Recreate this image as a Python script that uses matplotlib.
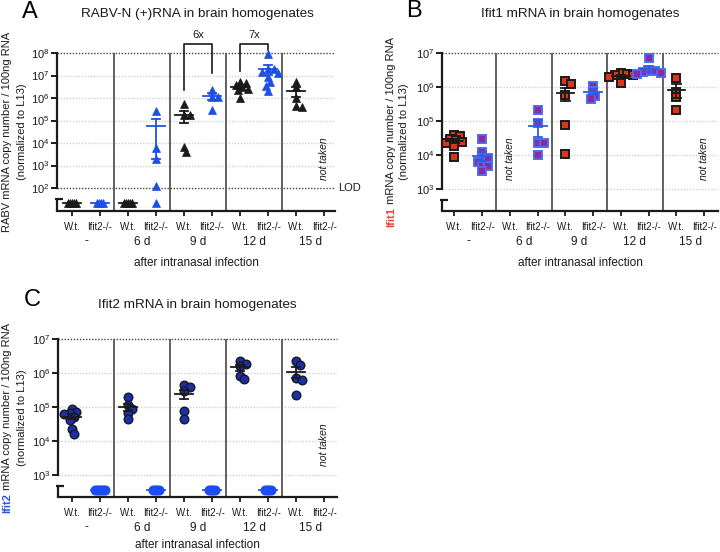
import numpy as np
import matplotlib
matplotlib.use("Agg")
import matplotlib.pyplot as plt

plt.rcParams['font.family'] = ['Liberation Sans', 'DejaVu Sans']

GROUPS = ["-", "6 d", "9 d", "12 d", "15 d"]
GENOTYPES = ["W.t.", "Ifit2-/-"]

# A: RABV-N (+)RNA. undetected samples are drawn at ND_A, below the axis break
ND_A = 22
rabv_wt = [[ND_A] * 5,
           [ND_A] * 5,
           [5.2e5, 1.7e5, 1.7e5, 6.5e3, 3.9e3],
           [5.2e6, 4.8e6, 3.6e6, 3.2e6, 2.4e6, 2.2e6, 1.0e6],
           [5.4e6, 3.2e6, 1.0e6, 4.5e5, 4.0e5]]
rabv_ko = [[ND_A] * 4,
           [2.75e5, 5.75e3, 1.9e3, 126, ND_A],
           [2.3e6, 1.15e6, 1.1e6, 3.0e5],
           [9.0e7, 1.9e7, 1.9e7, 1.5e7, 1.26e7, 8.8e6, 5.3e6, 3.4e6, 2.0e6],
           None]
# fold change brackets: (left pos, right pos, label, left leg end, right leg end)
rabv_folds = [(4, 5, "6x", 2.3e6, 1.3e7),
              (6, 7, "7x", 1.6e7, 1.35e8)]
fold_top = 2.5e8
fold_label_y = 6.3e8

# B: Ifit1 mRNA
ifit1_wt = [[3.8e4, 3.5e4, 2.9e4, 2.7e4, 2.4e4, 2.2e4, 1.8e4, 8.5e3],
            None,
            [1.45e6, 1.2e6, 6.0e5, 7.5e4, 1.07e4],
            [2.6e6, 2.4e6, 2.2e6, 2.2e6, 2.0e6, 1.35e6],
            [1.87e6, 7.3e5, 5.0e5, 2.1e5]]
ifit1_ko = [[2.9e4, 1.2e4, 8e3, 8e3, 6e3, 4.8e3, 4.8e3, 3.4e3],
            [2.1e5, 8.5e4, 2.3e4, 2.3e4, 1.0e4],
            [1.1e6, 7.7e5, 5.5e5, 4.4e5],
            [6.9e6, 3.0e6, 2.9e6, 2.7e6, 2.6e6, 2.4e6],
            None]

# C: Ifit2 mRNA, knockouts have none -> drawn at ND_C below the break
ND_C = 360
ifit2_wt = [[9e4, 7.3e4, 6.5e4, 6e4, 5.1e4, 4e4, 2.2e4, 1.6e4],
            [1.9e5, 1.15e5, 9e4, 6.7e4, 4.4e4],
            [4.3e5, 3.8e5, 2.9e5, 7.8e4, 4.4e4],
            [2.3e6, 1.9e6, 1.6e6, 8.2e5, 6.6e5],
            [2.2e6, 1.7e6, 7e5, 6.2e5, 2.2e5]]
ifit2_ko = [[ND_C] * 6, [ND_C] * 4, [ND_C] * 4, [ND_C] * 4, None]

INK = '#1a1a1a'
BLUE = '#1d4fe6'


def mean_sem(vals):
    v = np.asarray(vals, float)
    if len(v) < 2:
        return v.mean(), 0.0
    return v.mean(), v.std(ddof=1) / np.sqrt(len(v))


def swarm(vals, nd, dec_px, cat_px, d=5.0, step=2.0, nd_step=2.1):
    # simple column scatter, everything in pixels
    v = np.asarray(vals, float)
    y = np.log10(v) * dec_px
    off = np.zeros(len(v))
    is_nd = v == nd
    k_nd = np.flatnonzero(is_nd)
    off[k_nd] = (np.arange(len(k_nd)) - (len(k_nd) - 1) / 2) * nd_step
    placed = []
    for i in np.argsort(-y):
        if is_nd[i]:
            continue
        k = 0
        while True:
            cand = ((k + 1) // 2) * step * (1 if k % 2 else -1)
            if all(np.hypot(cand - off[j], y[i] - y[j]) >= d for j in placed):
                break
            k += 1
        off[i] = cand
        placed.append(i)
    return off / cat_px


def panel(ax, wt, ko, st_wt, st_ko, ylim, yticks, dark, brk, nd, xlim,
          xlab_off=-36.5):
    ax.set_yscale('log')
    ax.set_xlim(*xlim)
    ax.set_ylim(*ylim)
    cat_px = ax.bbox.width / (xlim[1] - xlim[0])
    dec_px = ax.bbox.height / (np.log10(ylim[1]) - np.log10(ylim[0]))

    for s in ['top', 'right']:
        ax.spines[s].set_visible(False)
    ax.spines['left'].set_bounds(yticks[0], yticks[-1])
    ax.spines['left'].set_linewidth(1.6)
    ax.spines['bottom'].set_linewidth(1.6)
    ax.spines['left'].set_color(INK)
    ax.spines['bottom'].set_color(INK)
    tr = ax.get_yaxis_transform()
    w = ax.bbox.width
    ax.plot([0, 0], [ylim[0], brk], transform=tr, color=INK, lw=1.6,
            clip_on=False, solid_capstyle='butt')
    ax.plot([-2 / w, 6 / w], [brk, brk], transform=tr, color=INK, lw=1.6,
            clip_on=False, solid_capstyle='butt')

    ax.set_yticks(yticks)
    ax.minorticks_off()
    ax.tick_params(axis='y', length=4.3, width=1.4, pad=1, labelsize=8,
                   colors=INK)
    ax.set_xticks(range(10))
    ax.set_xticklabels(GENOTYPES * 5)
    ax.tick_params(axis='x', length=3.6, width=1.3, pad=4, labelsize=7,
                   colors=INK)

    for v in yticks:
        if v in dark:
            ax.axhline(v, color='#444444', lw=1.0, ls=(0, (1, 1.2)),
                       zorder=0, clip_on=False)
        else:
            ax.axhline(v, color='#d0d0d0', lw=1.0, ls=(0, (1, 1.2)),
                       zorder=0)
    for b in [1.5, 3.5, 5.5, 7.5]:
        ax.axvline(b, color='#555555', lw=1.3, zorder=1)

    for g, lab in enumerate(GROUPS):
        ax.annotate(lab, xy=(2 * g + 0.5, 0), xycoords=('data', 'axes fraction'),
                    xytext=(0, -22), textcoords='offset points',
                    ha='center', va='center', fontsize=8.5, color=INK)
    ax.annotate('after intranasal infection', xy=(0.5, 0),
                xycoords='axes fraction', xytext=(0, xlab_off),
                textcoords='offset points', ha='center', va='center',
                fontsize=8.5, color=INK)

    xt = ax.get_xaxis_transform()
    for g in range(5):
        for vals, pos, st in ((wt[g], 2 * g, st_wt), (ko[g], 2 * g + 1, st_ko)):
            if vals is None:
                ax.text(pos, 0.33, 'not taken', transform=xt, rotation=90,
                        style='italic', ha='center', va='center',
                        fontsize=7.5, color=INK)
                continue
            offs = swarm(vals, nd, dec_px, cat_px)
            ax.plot(pos + offs, vals, ls='none', marker=st['marker'],
                    ms=st['ms'], mfc=st['fc'], mec=st['ec'], mew=st['mew'],
                    zorder=3, clip_on=False)
            m, s = mean_sem(vals)
            c = st['bar']
            ax.plot([pos - 0.32, pos + 0.32], [m, m], color=c, lw=1.3, zorder=4)
            if s > 0:
                lo = m - s if m - s > 0 else ylim[0]
                ax.plot([pos, pos], [lo, m + s], color=c, lw=1.3, zorder=4)
                ax.plot([pos - 0.15, pos + 0.15], [m + s] * 2, color=c,
                        lw=1.3, zorder=4)
                if m - s > 0:
                    ax.plot([pos - 0.15, pos + 0.15], [m - s] * 2, color=c,
                            lw=1.3, zorder=4)


def ylabel(fig, ax, parts, line2, x1, x2, fs=8):
    r = fig.canvas.get_renderer()
    bb = ax.get_position()
    H = fig.bbox.height
    yc = (bb.y0 + bb.y1) / 2 * H
    texts = [fig.text(x1 / 720, 0.5, t, color=c, rotation=90, ha='center',
                      va='bottom', fontsize=fs, fontweight=wt)
             for t, c, wt in parts]
    hs = [t.get_window_extent(r).height for t in texts]
    y = yc - sum(hs) / 2
    for t, h in zip(texts, hs):
        t.set_y(y / H)
        y += h
    fig.text(x2 / 720, yc / H, line2, rotation=90, ha='center', va='center',
             fontsize=fs, color=INK)


fig = plt.figure(figsize=(7.2, 5.52), dpi=100)
axA = fig.add_axes([57 / 720, 1 - 211 / 552, 278 / 720, 158 / 552])
axB = fig.add_axes([442 / 720, 1 - 211 / 552, 276 / 720, 158 / 552])
axC = fig.add_axes([58 / 720, 1 - 497 / 552, 279 / 720, 158 / 552])

tri_wt = dict(marker='^', ms=5.5, fc=INK, ec=INK, mew=0.5, bar=INK)
tri_ko = dict(marker='^', ms=5.5, fc=BLUE, ec=BLUE, mew=0.5, bar=BLUE)
sq_wt = dict(marker='s', ms=5.3, fc='#d9361c', ec=INK, mew=1.4, bar=INK)
sq_ko = dict(marker='s', ms=5.3, fc='#8d2a98', ec='#4a6cf2', mew=1.4, bar='#2e5be8')
ci_wt = dict(marker='o', ms=6.2, fc='#1b2fae', ec=INK, mew=1.0, bar=INK)
ci_ko = dict(marker='o', ms=6.2, fc='#1b4cf5', ec='#1b4cf5', mew=1.0, bar='#1b4cf5')

decA = [10.0 ** k for k in range(2, 9)]
decBC = [10.0 ** k for k in range(3, 8)]

panel(axA, rabv_wt, rabv_ko, tri_wt, tri_ko, (10 ** 0.98, 1e8), decA,
      [1e2, 1e8], 10 ** 1.51, ND_A, (-0.536, 9.39), -37.5)
panel(axB, ifit1_wt, ifit1_ko, sq_wt, sq_ko, (10 ** 2.35, 1e7), decBC,
      [1e7], 10 ** 2.68, None, (-0.45, 9.5), -37.5)
panel(axC, ifit2_wt, ifit2_ko, ci_wt, ci_ko, (10 ** 2.35, 1e7), decBC,
      [1e7], 10 ** 2.68, ND_C, (-0.5, 9.46), -34.5)

# fold change brackets
for i, j, lab, yl, yr in rabv_folds:
    axA.plot([i, i, j, j], [yl, fold_top, fold_top, yr], color=INK, lw=1.2,
             clip_on=False)
    axA.text((i + j) / 2, fold_label_y, lab, ha='center', va='center',
             fontsize=8, color=INK, clip_on=False)
axA.text(1.011, 1e2, 'LOD', transform=axA.get_yaxis_transform(),
         va='center', ha='left', fontsize=8, color=INK)

fig.text(197 / 720, 1 - 14 / 552, 'RABV-N (+)RNA in brain homogenates',
         ha='center', va='center', fontsize=9.7, color=INK)
fig.text(580 / 720, 1 - 14 / 552, 'Ifit1 mRNA in brain homogenates',
         ha='center', va='center', fontsize=9.7, color=INK)
fig.text(197 / 720, 1 - 305 / 552, 'Ifit2 mRNA in brain homogenates',
         ha='center', va='center', fontsize=9.7, color=INK)
fig.text(30 / 720, 1 - 12 / 552, 'A', ha='center', va='center', fontsize=17)
fig.text(414 / 720, 1 - 11 / 552, 'B', ha='center', va='center', fontsize=17)
fig.text(32 / 720, 1 - 300 / 552, 'C', ha='center', va='center', fontsize=17)

rest = ' mRNA copy number / 100ng RNA'
ylabel(fig, axA, [('RABV mRNA copy number / 100ng RNA', INK, 'normal')],
       '(normalized to L13)', 7, 22)
ylabel(fig, axB, [('Ifit1', '#e8452c', 'bold'), (rest, INK, 'normal')],
       '(normalized to L13)', 391, 404)
ylabel(fig, axC, [('Ifit2', '#2d55e0', 'bold'), (rest, INK, 'normal')],
       '(normalized to L13)', 7, 22)

fig.savefig('out.png', dpi=100)
